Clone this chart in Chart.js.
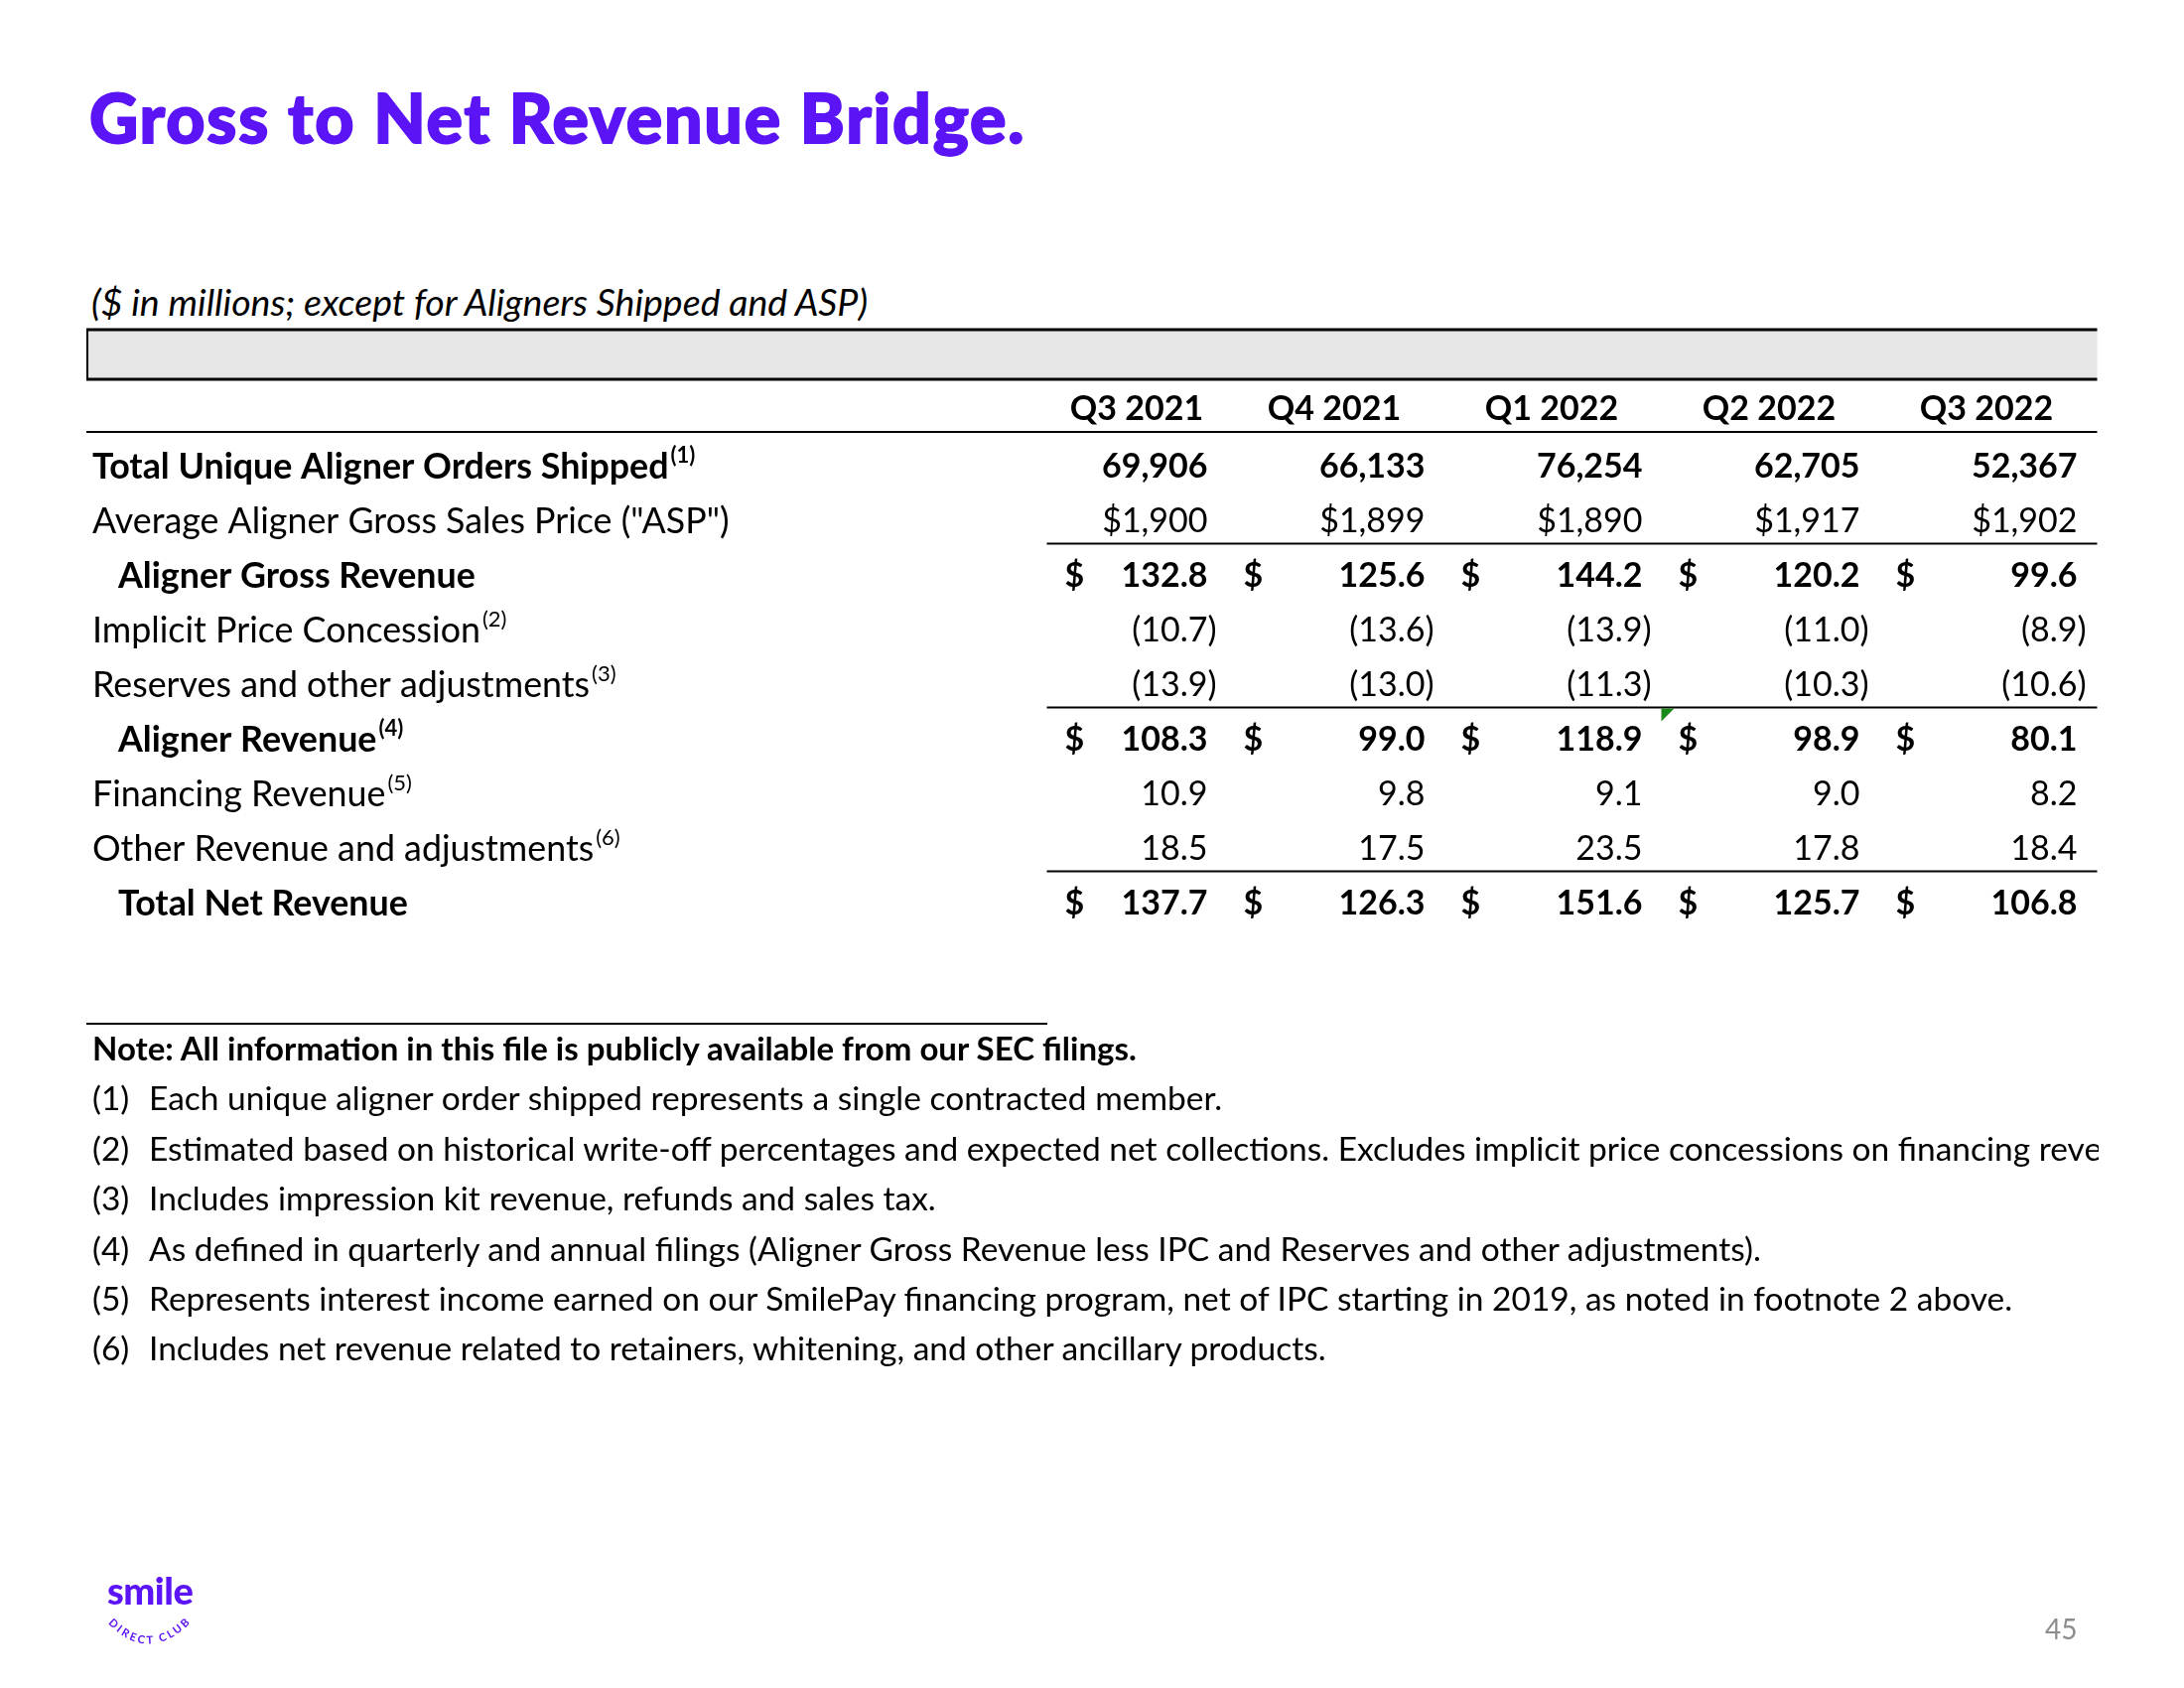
<!DOCTYPE html>
<html>
<head>
<meta charset="utf-8">
<script src="https://cdn.jsdelivr.net/npm/chart.js@4.4.1/dist/chart.umd.min.js"></script>
<style>
html,body{margin:0;padding:0;background:#fff;}
body{width:2200px;height:1700px;position:relative;overflow:hidden;font-family:Lato,"Open Sans",sans-serif;color:#000;}
#tbl{position:absolute;left:0;top:0;}
.title{position:absolute;left:90px;top:84px;font-size:68px;line-height:68px;font-weight:900;color:#5a14f5;white-space:nowrap;letter-spacing:1.8px;-webkit-text-stroke:1.8px #5a14f5;}
.sub{position:absolute;left:92px;top:285px;font-size:37.5px;line-height:37.5px;font-style:italic;white-space:nowrap;}
.rule{position:absolute;left:87px;top:1030px;width:968px;height:2px;background:#000;}
.notes{position:absolute;left:93px;top:1030px;width:2021px;overflow:hidden;font-size:33.5px;line-height:50.4px;white-space:nowrap;}
.notes b{font-weight:700;font-size:33px;}
.notes .n{display:inline-block;width:57px;}
.logo{position:absolute;left:108px;top:1582px;font-size:38px;line-height:38px;font-weight:900;color:#5a14f5;letter-spacing:-0.5px;}
.page{position:absolute;left:2060px;top:1626px;font-size:28px;line-height:28px;color:#8c8c8c;}
svg{position:absolute;left:0;top:0;}
</style>
</head>
<body>
<div class="title">Gross to Net Revenue Bridge.</div>
<div class="sub">($ in millions; except for Aligners Shipped and ASP)</div>
<canvas id="tbl" width="2200" height="1700"></canvas>
<div class="rule"></div>
<div class="notes">
  <div><b>Note: All information in this file is publicly available from our SEC filings.</b></div>
  <div><span class="n">(1)</span>Each unique aligner order shipped represents a single contracted member.</div>
  <div><span class="n">(2)</span>Estimated based on historical write-off percentages and expected net collections. Excludes implicit price concessions on financing revenue.</div>
  <div><span class="n">(3)</span>Includes impression kit revenue, refunds and sales tax.</div>
  <div><span class="n">(4)</span>As defined in quarterly and annual filings (Aligner Gross Revenue less IPC and Reserves and other adjustments).</div>
  <div><span class="n">(5)</span>Represents interest income earned on our SmilePay financing program, net of IPC starting in 2019, as noted in footnote 2 above.</div>
  <div><span class="n">(6)</span>Includes net revenue related to retainers, whitening, and other ancillary products.</div>
</div>
<div class="logo">smile</div>
<svg width="2200" height="1700">
  <path id="arc" d="M 108 1634 Q 152 1680 198 1628" fill="none"/>
  <text font-family="Lato" font-size="11" font-weight="700" fill="#5a14f5" letter-spacing="2.6"><textPath href="#arc" startOffset="1">DIRECT CLUB</textPath></text>
</svg>
<div class="page">45</div>
<script>
/* -------------------------- data -------------------------- */
const QUARTERS = ["Q3 2021","Q4 2021","Q1 2022","Q2 2022","Q3 2022"];
const ROW_LABELS = [
  "Total Unique Aligner Orders Shipped",
  "Average Aligner Gross Sales Price (\"ASP\")",
  "Aligner Gross Revenue",
  "Implicit Price Concession",
  "Reserves and other adjustments",
  "Aligner Revenue",
  "Financing Revenue",
  "Other Revenue and adjustments",
  "Total Net Revenue"
];
const ROW_NOTES = ["(1)","","","(2)","(3)","(4)","(5)","(6)",""];
const ROW_BOLD  = [true,false,true,false,false,true,false,false,true];
const ROW_INDENT= [false,false,true,false,false,true,false,false,true];
const ROW_KIND  = ["count","price","dollar","num","num","dollar","num","num","dollar"];

const alignerOrders    = [69906, 66133, 76254, 62705, 52367];
const asp              = [1900, 1899, 1890, 1917, 1902];
const grossRevenue     = [132.8, 125.6, 144.2, 120.2, 99.6];
const priceConcession  = [-10.7, -13.6, -13.9, -11.0, -8.9];
const reserves         = [-13.9, -13.0, -11.3, -10.3, -10.6];
const alignerRevenue   = [108.3, 99.0, 118.9, 98.9, 80.1];
const financingRevenue = [10.9, 9.8, 9.1, 9.0, 8.2];
const otherRevenue     = [18.5, 17.5, 23.5, 17.8, 18.4];
const totalNetRevenue  = [137.7, 126.3, 151.6, 125.7, 106.8];

const ROW_VALUES = [alignerOrders, asp, grossRevenue, priceConcession, reserves,
                    alignerRevenue, financingRevenue, otherRevenue, totalNetRevenue];
const RULE_AFTER = [1, 4, 7];   // thin rules under these rows

/* -------------------------- helpers -------------------------- */
const FONT = "Lato";
const LABEL_PX = 35.8, NUM_PX = 34, SUP_PX = 22;
function fmt(kind, v){
  if(kind==="count") return v.toLocaleString("en-US");
  if(kind==="price") return "$"+v.toLocaleString("en-US");
  const s=Math.abs(v).toFixed(1);
  return v<0 ? "("+s+")" : s;
}

const tablePlugin = {
  id:"tableText",
  afterDatasetsDraw(chart){
    const {ctx, chartArea:a, scales:{x,y}} = chart;
    const colW = x.width/QUARTERS.length;
    const row0 = y.getPixelForValue(0);
    const left = 87, right = a.right+20;
    ctx.save();

    // grey band + header
    ctx.fillStyle="#e6e6e6";
    ctx.fillRect(left, row0-137, right-left, 50);
    ctx.strokeStyle="#000";
    ctx.lineWidth=3;
    ctx.beginPath(); ctx.moveTo(left,row0-137); ctx.lineTo(right,row0-137); ctx.stroke();
    ctx.beginPath(); ctx.moveTo(left,row0-87); ctx.lineTo(right,row0-87); ctx.stroke();
    ctx.lineWidth=2;
    ctx.beginPath(); ctx.moveTo(left+1,row0-137); ctx.lineTo(left+1,row0-87); ctx.stroke();
    ctx.beginPath(); ctx.moveTo(left,row0-34); ctx.lineTo(right,row0-34); ctx.stroke();

    ctx.fillStyle="#000";
    ctx.textBaseline="alphabetic";
    ctx.font=`700 ${NUM_PX}px ${FONT}`;
    ctx.textAlign="center";
    QUARTERS.forEach((q,i)=>{
      const cx=x.getPixelForValue(i);
      ctx.fillText(q, cx+(i===0?38:18), row0-58+NUM_PX*0.358);
    });

    // row rules
    ctx.lineWidth=2;
    RULE_AFTER.forEach(r=>{
      const ly=(y.getPixelForValue(r)+y.getPixelForValue(r+1))/2-4;
      ctx.beginPath(); ctx.moveTo(a.left+57,ly); ctx.lineTo(right,ly); ctx.stroke();
    });

    // labels + cells
    chart.data.datasets.forEach((ds,r)=>{
      const meta=chart.getDatasetMeta(r);
      const ry=meta.data[0].y;
      const w=ROW_BOLD[r]?700:400;
      const lbase=ry+LABEL_PX*0.358, nbase=ry+NUM_PX*0.358;
      ctx.font=`${w} ${LABEL_PX}px ${FONT}`;
      ctx.textAlign="left";
      const lx=left+(ROW_INDENT[r]?32:6);
      ctx.fillText(ROW_LABELS[r], lx, lbase);
      if(ROW_NOTES[r]){
        const tw=ctx.measureText(ROW_LABELS[r]).width;
        ctx.font=`${w} ${SUP_PX}px ${FONT}`;
        ctx.fillText(ROW_NOTES[r], lx+tw+2, lbase-16);
      }
      ctx.font=`${w} ${NUM_PX}px ${FONT}`;
      meta.data.forEach((pt,i)=>{
        const v=ROW_VALUES[r][i], kind=ROW_KIND[r];
        const vr=pt.x+colW/2;
        const txt=fmt(kind,v);
        ctx.textAlign="right";
        const hang=(kind!=="count"&&kind!=="price"&&v<0)?ctx.measureText(")").width:0;
        ctx.fillText(txt, vr+hang, nbase);
        if(kind==="dollar"){
          ctx.textAlign="left";
          ctx.fillText("$", vr-(i===0?144:183), nbase);
        }
      });
    });

    // comment marker on Q1 2022 aligner revenue
    const mx=x.getPixelForValue(2)+colW/2+19, my=(y.getPixelForValue(4)+y.getPixelForValue(5))/2-3;
    ctx.fillStyle="#1a8a1a";
    ctx.beginPath(); ctx.moveTo(mx,my); ctx.lineTo(mx+13,my); ctx.lineTo(mx,my+13); ctx.closePath(); ctx.fill();
    ctx.restore();
  }
};

/* -------------------------- chart -------------------------- */
function drawTable(){
  const datasets=ROW_LABELS.map(lbl=>({
    label:lbl,
    data:QUARTERS.map(q=>({x:q,y:lbl})),
    pointRadius:0, showLine:false
  }));
  new Chart(document.getElementById("tbl"),{
    type:"scatter",
    data:{datasets},
    options:{
      responsive:false, animation:false, events:[],
      layout:{padding:{left:997.5,right:107.5,top:441.5,bottom:763.5}},
      plugins:{legend:{display:false},tooltip:{enabled:false}},
      scales:{
        x:{type:"category",labels:QUARTERS,offset:true,display:false},
        y:{type:"category",labels:ROW_LABELS,offset:true,display:false}
      }
    },
    plugins:[tablePlugin]
  });
}
Promise.all([
  document.fonts.load(`400 30px ${FONT}`),
  document.fonts.load(`700 30px ${FONT}`)
]).catch(()=>{}).then(drawTable);
</script>
</body>
</html>
